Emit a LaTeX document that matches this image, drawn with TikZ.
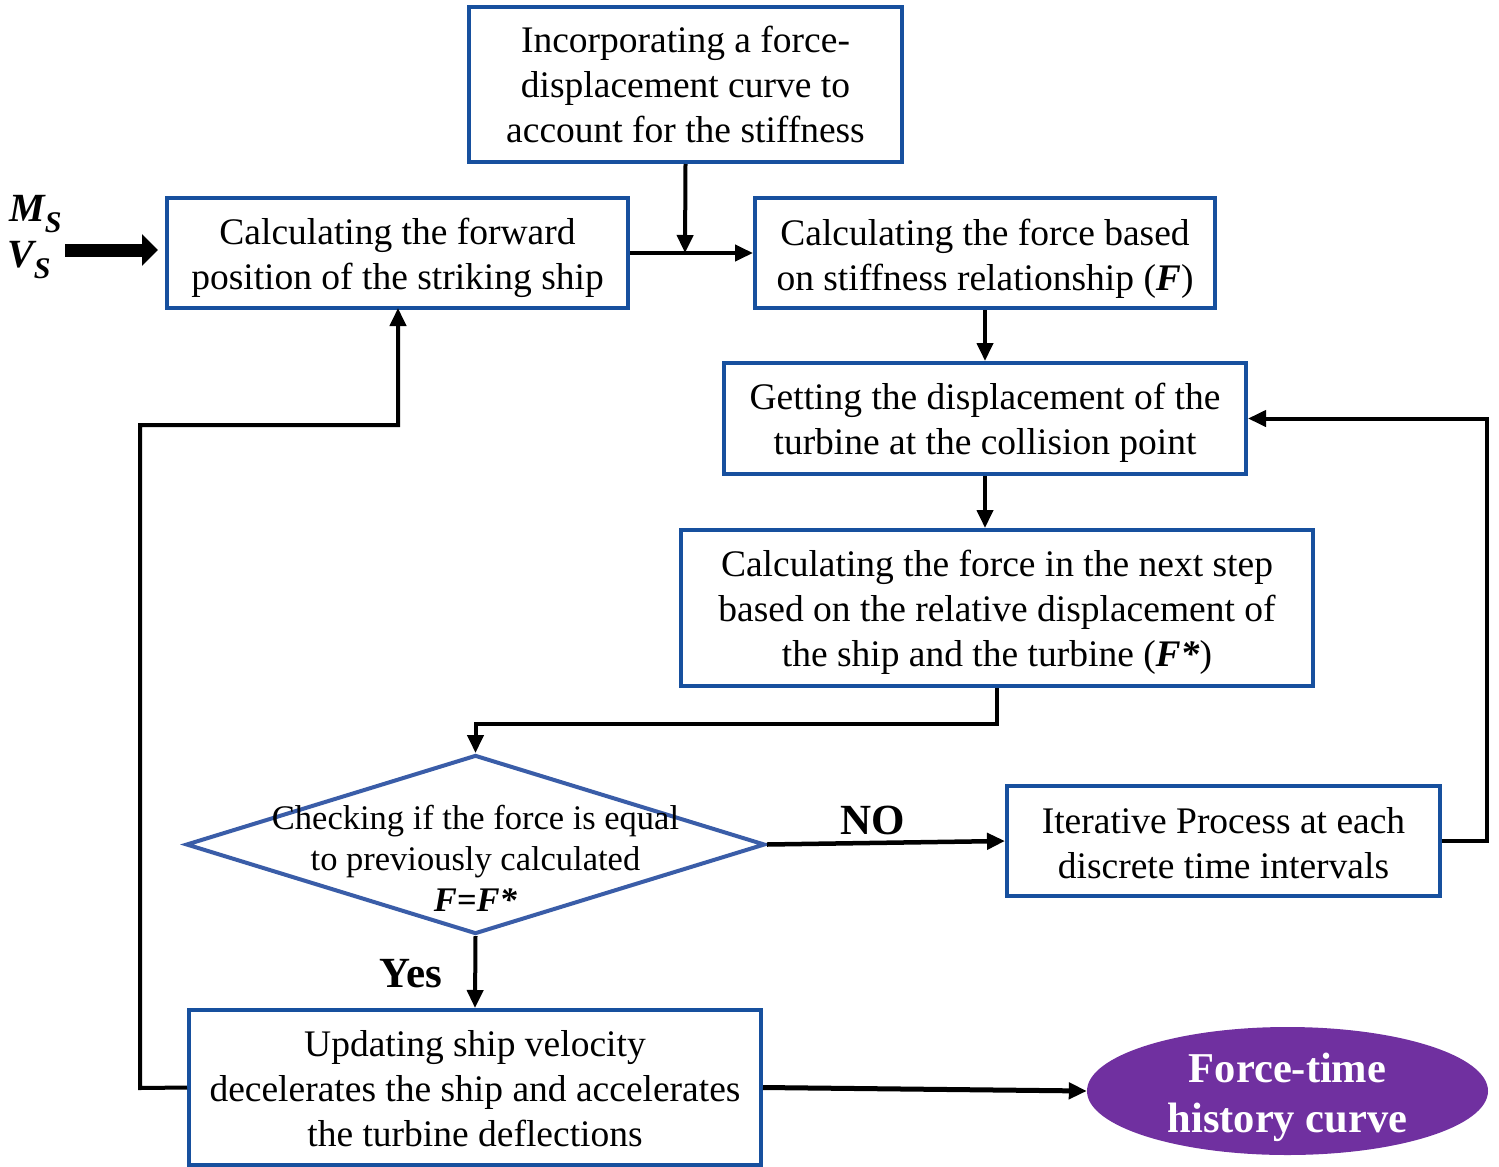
\documentclass[tikz,border=0pt]{standalone}
\usepackage{fontspec}
\setmainfont{Liberation Serif}
\usetikzlibrary{arrows.meta,shapes.geometric}
\definecolor{boxblue}{HTML}{17509E}
\definecolor{diablue}{HTML}{3A5DA8}
\definecolor{ellpurple}{HTML}{7030A0}
\tikzset{
  procbox/.style={draw=boxblue, line width=4pt, fill=white, align=center, inner sep=0pt,
    font=\fontsize{37.5}{45}\selectfont},
  conn/.style={line width=4pt, -{Triangle[length=18pt,width=16pt]}},
  lbl/.style={font=\fontsize{43}{45}\selectfont\bfseries, inner sep=0pt},
  sym/.style={inner sep=0pt, font=\fontsize{40}{40}\selectfont\bfseries\itshape},
}
\newcommand{\subS}{\raisebox{-0.28em}{\fontsize{30}{30}\selectfont S}}
\newcommand{\lift}[1]{\rule{0pt}{#1}}
\begin{document}
\begin{tikzpicture}[x=1pt,y=-1pt]
\useasboundingbox (0,0) rectangle (1499,1167);
% boxes
\node[procbox, minimum width=433pt, minimum height=155pt] (inc) at (685.5,84.5)
  {Incorporating a force-\\displacement curve to\\account for the stiffness};
\node[procbox, minimum width=461pt, minimum height=110pt] (fwd) at (397.5,253)
  {\lift{37pt}Calculating the forward\\position of the striking ship};
\node[procbox, minimum width=460pt, minimum height=110pt] (fb) at (985,253)
  {\lift{37pt}Calculating the force based\\on stiffness relationship (\textbf{\textit{F}})};
\node[procbox, minimum width=522pt, minimum height=111pt] (disp) at (985,418.5)
  {\lift{35pt}Getting the displacement of the\\turbine at the collision point};
\node[procbox, minimum width=632pt, minimum height=156pt] (next) at (997,608)
  {\lift{35pt}Calculating the force in the next step\\based on the relative displacement of\\the ship and the turbine (\textbf{\textit{F*}})};
\node[draw=diablue, line width=4pt, fill=white, shape=diamond, shape aspect=3.23, inner sep=0pt,
  minimum width=579pt, minimum height=179pt] (chk) at (475.5,844.5) {};
\node[align=center, inner sep=0pt, font=\fontsize{34.5}{41}\selectfont] (chktxt) at (475.5,858)
  {Checking if the force is equal\\to previously calculated\\\textbf{\textit{F=F*}}};
\node[procbox, minimum width=433pt, minimum height=110pt] (iter) at (1223.5,841)
  {\lift{30pt}Iterative Process at each\\discrete time intervals};
\node[procbox, minimum width=572pt, minimum height=155pt] (upd) at (475,1087.5)
  {\lift{29pt}Updating ship velocity\\decelerates the ship and accelerates\\the turbine deflections};
\node[ellipse, fill=ellpurple, minimum width=401pt, minimum height=128pt, inner sep=-12pt,
  align=center, text=white, font=\fontsize{42.5}{50}\selectfont\bfseries] (fth) at (1287.5,1091)
  {\lift{42pt}Force-time\\history curve};
% input
\node[sym, anchor=west] (ms) at (9,214) {M\subS};
\node[sym, anchor=west] (vs) at (7,260) {V\subS};
\coordinate (inA) at (65,250);
\coordinate (inB) at (158,250);
\draw[line width=13pt, -{Triangle[length=16pt,width=31pt]}] (inA) -- (inB);
% connectors
\draw[conn] (fwd.east) -- (fb.west);
\coordinate (jn) at (685,253);
\draw[conn] (inc.south) -- (jn);
\draw[conn] (fb.south) -- (disp.north);
\draw[conn] (disp.south) -- (disp.south |- next.north);
\draw[conn] (next.south) -- ++(0,36) -| (chk.north);
\draw[conn, line width=4.5pt] (chk.east) -- (iter.west);
\node[lbl] (no) at (873,820) {NO};
\draw[conn] (iter.east) -- (1487,841) |- (disp.east);
\draw[conn] (chk.south) -- (upd.north);
\node[lbl] (yes) at (411,974) {Yes};
\draw[conn, line width=5pt] (upd.east) -- (fth.west);
\draw[conn] (upd.west) -- (140,1088) |- (398,425) -- (398,308);
\end{tikzpicture}
\end{document}
